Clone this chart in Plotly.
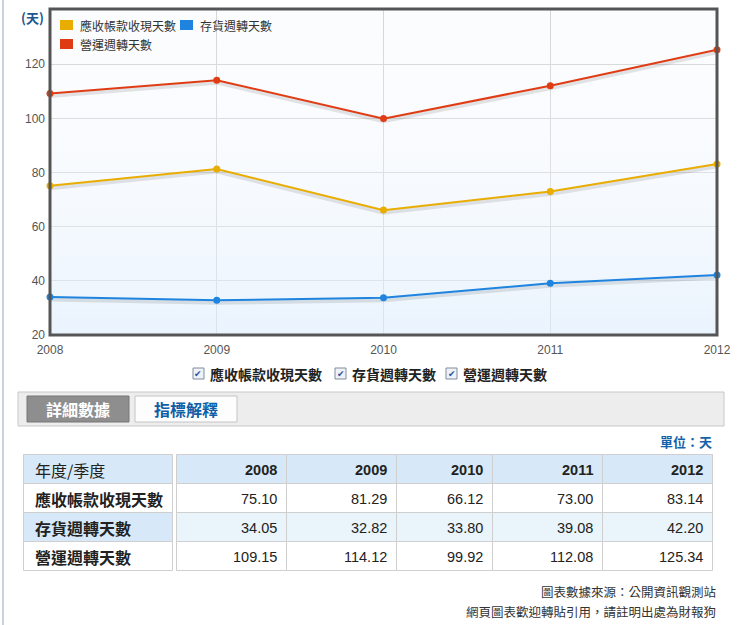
import plotly.graph_objects as go

# ---------------- data ----------------
years = [2008, 2009, 2010, 2011, 2012]
series_names = ["應收帳款收現天數", "存貨週轉天數", "營運週轉天數"]
receivable_days = [75.10, 81.29, 66.12, 73.00, 83.14]
inventory_days = [34.05, 32.82, 33.80, 39.08, 42.20]
operating_days = [109.15, 114.12, 99.92, 112.08, 125.34]
series_values = [receivable_days, inventory_days, operating_days]
series_colors = ["#e9ad00", "#1f84df", "#e03c14"]
y_ticks = [20, 40, 60, 80, 100, 120]
table_header_left = "年度/季度"
unit_label = "單位：天"
axis_unit = "(天)"
tab_labels = ["詳細數據", "指標解釋"]
footer_lines = ["圖表數據來源：公開資訊觀測站", "網頁圖表歡迎轉貼引用，請註明出處為財報狗"]

# ---------------- layout helpers ----------------
W, H = 740, 625
PL, PR, PT, PB = 50, 717, 9, 335
Y_MIN, Y_MAX = 20, 140.4

def fx(px):
    return px / W

def fy(py):
    return 1 - py / H

CJK = "Noto Sans CJK TC"
LAT = "Liberation Sans, Noto Sans CJK TC"

fig = go.Figure()

# background gradient of the plot area
fig.add_trace(go.Scatter(
    x=[years[0], years[-1], years[-1], years[0]],
    y=[Y_MIN, Y_MIN, Y_MAX, Y_MAX],
    mode="none", fill="toself",
    fillgradient=dict(type="vertical",
                      colorscale=[[0, "rgba(222,238,253,0.6)"], [1, "rgba(255,255,255,0)"]]),
    hoverinfo="skip", showlegend=False,
))

# shadows
shadow_dy = 2.5 * (Y_MAX - Y_MIN) / (PB - PT)
for vals in series_values:
    fig.add_trace(go.Scatter(
        x=years, y=[v - shadow_dy for v in vals], mode="lines",
        line=dict(color="rgba(0,0,0,0.10)", width=4),
        hoverinfo="skip", showlegend=False, cliponaxis=False,
    ))

for name, vals, col in zip(series_names, series_values, series_colors):
    fig.add_trace(go.Scatter(
        x=years, y=vals, mode="lines+markers", name=name,
        line=dict(color=col, width=2), marker=dict(color=col, size=7),
        showlegend=False, cliponaxis=False,
    ))

shapes = []
annotations = []

def rect(x0, y0, x1, y1, fill, line_color=None, lw=1, layer="above"):
    shapes.append(dict(type="rect", xref="paper", yref="paper",
                       x0=fx(x0), x1=fx(x1), y0=fy(y1), y1=fy(y0),
                       fillcolor=fill, layer=layer,
                       line=dict(color=line_color or "rgba(0,0,0,0)", width=lw if line_color else 0)))

def text(x, y, t, size, color, family=CJK, xanchor="left"):
    annotations.append(dict(xref="paper", yref="paper", x=fx(x), y=fy(y), xanchor=xanchor,
                            yanchor="middle", showarrow=False, text=t,
                            font=dict(family=family, size=size, color=color)))

# page left line
shapes.append(dict(type="line", xref="paper", yref="paper", x0=fx(3), x1=fx(3), y0=0, y1=1,
                   line=dict(color="#c9d2de", width=2)))
# plot frame
shapes.append(dict(type="rect", xref="x domain", yref="y domain", x0=0, x1=1, y0=0, y1=1,
                   line=dict(color="#555555", width=3), layer="above"))

# legend inside plot
legend_pos = [(60, 25), (180, 25), (60, 44)]
for (lx, ly), name, col in zip(legend_pos, series_names, series_colors):
    rect(lx, ly - 5, lx + 13, ly + 5, col)
    text(lx + 18, ly, name, 12, "#333")

# axis unit
text(32, 17, "<b>%s</b>" % axis_unit, 13, "#1d5690", xanchor="center")

# checkbox row
cb_pos = [193, 335, 446]
for cx, name in zip(cb_pos, series_names):
    rect(cx, 368, cx + 11, 379, "#eef2f8", "#7e8c9c")
    text(cx + 5.5, 373.5, "✔", 9, "#2a4f9a", family="DejaVu Sans", xanchor="center")
    text(cx + 15, 374, "<b>%s</b>" % name, 14, "#222")

# tab bar
rect(18, 392, 724, 426, "#ededed", "#c8c8c8")
rect(27, 396, 129, 422, "#8e8e8e", "#777777")
rect(135, 396, 237, 422, "#fdfdfd", "#c4c4c4")
text(78, 409, "<b>%s</b>" % tab_labels[0], 16, "white", xanchor="center")
text(186, 409, "<b>%s</b>" % tab_labels[1], 16, "#0e5fa8", xanchor="center")

# unit label
text(714, 441, "<b>%s</b>" % unit_label, 13, "#1463a8", xanchor="right")

# ---------------- tables ----------------
row_edges = [454, 483, 512, 541, 570]
left_edges = [23, 172]
col_edges = [176, 286, 396, 492, 602, 712]
left_fills = ["#d7e9f8", "white", "#d7e9f8", "white"]
right_fills = ["#d7e9f8", "white", "#eaf4fb", "white"]
border = "#cfcfcf"

left_texts = [table_header_left] + ["<b>%s</b>" % n for n in series_names]
for r in range(4):
    y0, y1 = row_edges[r], row_edges[r + 1]
    rect(left_edges[0] + 0.5, y0 + 0.5, left_edges[1] + 0.5, y1 + 0.5, left_fills[r], border)
    text(left_edges[0] + 10, (y0 + y1) / 2 + 1, left_texts[r], 16, "#222")

for r in range(4):
    y0, y1 = row_edges[r], row_edges[r + 1]
    for c in range(len(years)):
        x0, x1 = col_edges[c], col_edges[c + 1]
        rect(x0 + 0.5, y0 + 0.5, x1 + 0.5, y1 + 0.5, right_fills[r], border)
        if r == 0:
            t = "<b>%d</b>" % years[c]
        else:
            t = "%.2f" % series_values[r - 1][c]
        text(x1 - 7, (y0 + y1) / 2 + 1, t, 14.5, "#222", family=LAT, xanchor="right")

# footer
for i, t in enumerate(footer_lines):
    text(718, 591 + 20 * i, t, 12.5, "#333", xanchor="right")

fig.update_layout(
    width=W, height=H, autosize=False,
    margin=dict(l=0, r=0, t=0, b=0, pad=0, autoexpand=False),
    paper_bgcolor="white", plot_bgcolor="#fbfcfe",
    showlegend=False, shapes=shapes, annotations=annotations,
    xaxis=dict(domain=[fx(PL), fx(PR)], range=[years[0], years[-1]], tickvals=years,
               ticktext=[str(y) for y in years], showgrid=True, gridcolor="#d6d6d6",
               zeroline=False, showline=False, ticks="", ticklabelstandoff=6, automargin=False,
               tickfont=dict(family="Liberation Sans", size=12, color="#555")),
    yaxis=dict(domain=[fy(PB), fy(PT)], range=[Y_MIN, Y_MAX], tickvals=y_ticks,
               showgrid=True, gridcolor="#d6d6d6", zeroline=False, showline=False, ticks="",
               ticklabelstandoff=4, automargin=False,
               tickfont=dict(family="Liberation Sans", size=12, color="#555")),
)

fig.write_html("out.html", config={"displayModeBar": False, "responsive": False},
               post_script="document.body.style.margin='0px';")
